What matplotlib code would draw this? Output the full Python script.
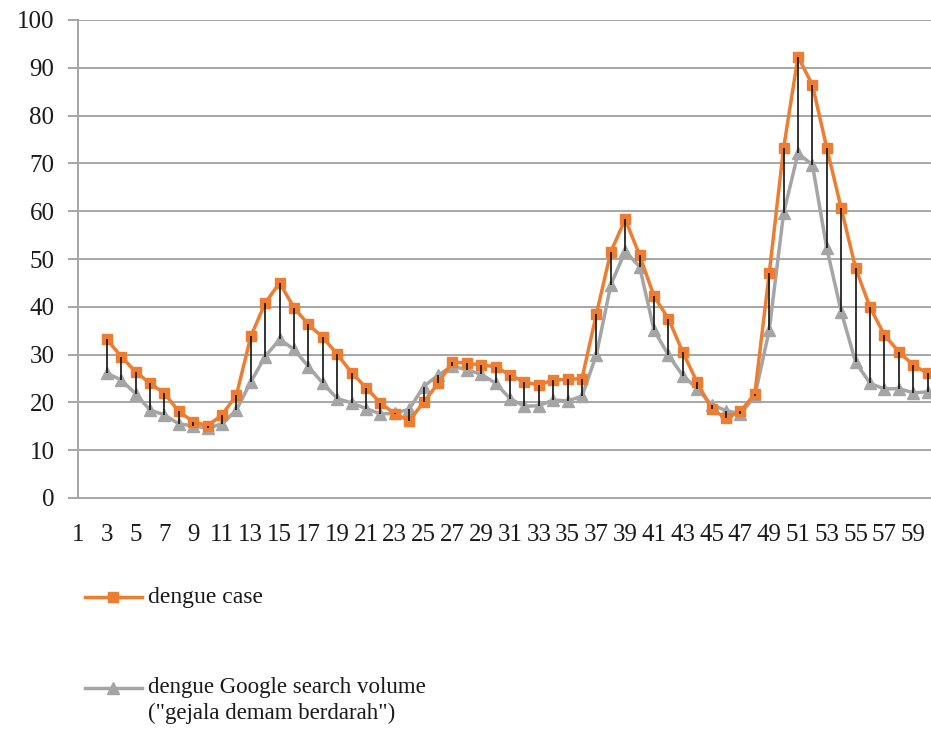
# -------------------------------------------------------------
# Import libraries
# -------------------------------------------------------------
import numpy as np
import matplotlib
matplotlib.use("Agg")
import matplotlib.pyplot as plt
from matplotlib.lines import Line2D


# -------------------------------------------------------------
# Data
# -------------------------------------------------------------
weeks = list(range(3, 61))

dengue_case = [33.2, 29.6, 26.4, 24.0, 21.9, 18.1, 16.0, 15.1, 17.4, 21.5,
               33.8, 40.8, 45.0, 39.8, 36.3, 33.6, 30.1, 26.2, 23.1, 19.9,
               17.6, 16.2, 20.0, 24.0, 28.5, 28.2, 27.8, 27.5, 25.7, 24.3,
               23.6, 24.7, 24.8, 25.0, 38.5, 51.5, 58.3, 50.8, 42.2, 37.5,
               30.5, 24.2, 18.6, 16.7, 18.1, 21.8, 47.0, 73.2, 92.3, 86.4,
               73.2, 60.6, 48.1, 39.9, 34.1, 30.6, 27.8, 26.1]

search_volume = [26.1, 24.7, 21.8, 18.4, 17.4, 15.5, 15.1, 14.6, 15.5, 18.4,
                 24.3, 29.6, 33.2, 31.1, 27.5, 24.0, 20.8, 19.9, 18.7, 17.6,
                 17.7, 18.6, 23.3, 25.7, 27.6, 26.8, 25.9, 24.0, 20.8, 19.2,
                 19.3, 20.5, 20.3, 21.3, 30.0, 44.6, 51.6, 48.4, 35.1, 29.9,
                 25.6, 22.9, 19.5, 18.3, 17.6, 21.3, 35.1, 59.6, 72.1, 69.7,
                 52.2, 39.0, 28.4, 24.0, 22.8, 22.9, 22.0, 22.2]

x_ticks = list(range(1, 60, 2))
y_ticks = list(range(0, 101, 10))

label_case = "dengue case"
label_search = 'dengue Google search volume\n("gejala demam berdarah")'

ORANGE = "#ED7D31"
GRAY = "#A5A5A5"
GRID = "#A6A6A6"
TEXT = "#1a1a1a"


# -------------------------------------------------------------
# Plot
# -------------------------------------------------------------
def rita():
    plt.rcParams['font.family'] = ['Liberation Serif', 'DejaVu Serif']

    W, H = 931, 740
    fig = plt.figure(figsize=(W / 100, H / 100), dpi=100)
    ax = fig.add_axes([78 / W, 1 - 498 / H, 852.5 / W, 478 / H])

    # high-low lines between the two series
    lo = np.minimum(dengue_case, search_volume)
    hi = np.maximum(dengue_case, search_volume)
    ax.vlines(weeks, lo, hi, color="#111111", lw=1.2, zorder=5)

    ax.plot(weeks, search_volume, color=GRAY, lw=2.5, marker="^",
            markersize=8, zorder=3)
    ax.plot(weeks, dengue_case, color=ORANGE, lw=2.5, marker="s",
            markersize=7.5, zorder=4)

    ax.set_xlim(1, 60.2)
    ax.set_ylim(0, 100)
    ax.set_xticks(x_ticks)
    ax.set_xticklabels([str(t) for t in x_ticks])
    ax.set_yticks(y_ticks)

    ax.grid(axis="y", color=GRID, lw=1.4)
    ax.set_axisbelow(True)
    for s in ["top", "right"]:
        ax.spines[s].set_visible(False)
    for s in ["left", "bottom"]:
        ax.spines[s].set_color(GRID)
        ax.spines[s].set_linewidth(1.4)

    ax.tick_params(axis="y", length=7, width=1.4, color=GRID, pad=10,
                   labelsize=18, labelcolor=TEXT)
    ax.tick_params(axis="x", length=0, pad=19, labelsize=18, labelcolor=TEXT)

    # legend drawn below the plot
    def fy(py):
        return 1 - py / H

    fig.add_artist(Line2D([85 / W, 142 / W], [fy(597), fy(597)],
                          color=ORANGE, lw=2.5))
    fig.add_artist(Line2D([113 / W], [fy(597)], color=ORANGE, marker="s",
                          markersize=7.5))
    fig.text(148 / W, fy(597), label_case, fontsize=17, color=TEXT,
             va="center", ha="left")

    fig.add_artist(Line2D([85 / W, 142 / W], [fy(688), fy(688)],
                          color=GRAY, lw=2.5))
    fig.add_artist(Line2D([113 / W], [fy(688)], color=GRAY, marker="^",
                          markersize=8))
    for i, rad in enumerate(label_search.split("\n")):
        fig.text(148 / W, fy(688 + 25 * i), rad, fontsize=16.5, color=TEXT,
                 va="center", ha="left")

    fig.savefig("out.png", dpi=100)


def main():
    rita()


if __name__ == "__main__":
    main()
